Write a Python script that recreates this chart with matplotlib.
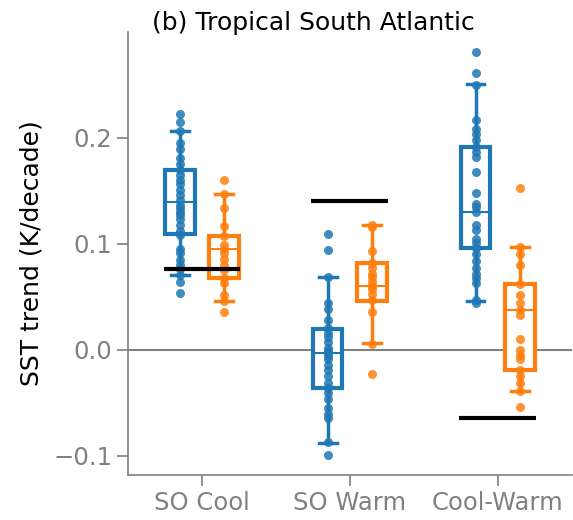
import numpy as np
import matplotlib
matplotlib.use("Agg")
import matplotlib.pyplot as plt

# categories and series
categories = ["SO Cool", "SO Warm", "Cool-Warm"]
blue = "#1f77b4"
orange = "#ff7f0e"

# individual model trends (K/decade)
blue_pts = [
    [0.222, 0.215, 0.206, 0.195, 0.189, 0.181, 0.175, 0.170, 0.165, 0.160,
     0.156, 0.151, 0.146, 0.141, 0.137, 0.134, 0.130, 0.127, 0.123, 0.118,
     0.112, 0.108, 0.095, 0.091, 0.085, 0.080, 0.076, 0.071, 0.064, 0.054],
    [0.109, 0.094, 0.069, 0.044, 0.039, 0.028, 0.021, 0.016, 0.012, 0.007,
     0.002, -0.001, -0.003, -0.006, -0.009, -0.014, -0.019, -0.025, -0.031,
     -0.036, -0.041, -0.046, -0.055, -0.060, -0.064, -0.087, -0.099],
    [0.281, 0.261, 0.250, 0.217, 0.208, 0.204, 0.198, 0.191, 0.187, 0.182,
     0.168, 0.148, 0.138, 0.135, 0.130, 0.118, 0.113, 0.105, 0.101, 0.096,
     0.090, 0.084, 0.077, 0.072, 0.068, 0.063, 0.047, 0.044],
]
orange_pts = [
    [0.160, 0.147, 0.134, 0.117, 0.107, 0.099, 0.095, 0.091, 0.086, 0.080,
     0.075, 0.068, 0.063, 0.052, 0.046, 0.036],
    [0.118, 0.116, 0.093, 0.082, 0.077, 0.072, 0.069, 0.064, 0.060, 0.057,
     0.053, 0.047, 0.036, 0.006, -0.023],
    [0.153, 0.097, 0.090, 0.080, 0.062, 0.052, 0.044, 0.038, 0.033, 0.010,
     0.000, -0.005, -0.009, -0.019, -0.025, -0.031, -0.039, -0.054],
]

# box statistics (whislo, q1, median, q3, whishi)
blue_box = [
    [0.071, 0.109, 0.139, 0.170, 0.206],
    [-0.0875, -0.036, -0.003, 0.0195, 0.069],
    [0.0465, 0.096, 0.130, 0.191, 0.2505],
]
orange_box = [
    [0.046, 0.068, 0.095, 0.107, 0.147],
    [0.0063, 0.0465, 0.060, 0.082, 0.118],
    [-0.039, -0.019, 0.038, 0.062, 0.097],
]

# observed trend per category
obs = [0.076, 0.140, -0.064]

fig = plt.figure(figsize=(5.73, 5.2), dpi=100)
ax = fig.add_axes([0.2234, 0.0865, 0.7743, 0.8525])

x = np.arange(len(categories))
off = 0.15

def stats(rows):
    return [dict(whislo=r[0], q1=r[1], med=r[2], q3=r[3], whishi=r[4], fliers=[])
            for r in rows]

for rows, pts, col, dx in [(blue_box, blue_pts, blue, -off),
                           (orange_box, orange_pts, orange, off)]:
    ax.bxp(stats(rows), positions=x + dx, widths=0.2, capwidths=0.12,
           patch_artist=True, showfliers=False,
           boxprops=dict(facecolor="white", edgecolor=col, linewidth=3),
           medianprops=dict(color=col, linewidth=1.5),
           whiskerprops=dict(color=col, linewidth=2.5),
           capprops=dict(color=col, linewidth=2.5), zorder=2)
    for i, p in enumerate(pts):
        ax.scatter(np.full(len(p), x[i] + dx), p, s=42, color=col,
                   alpha=0.85, linewidths=0, zorder=3)

ax.hlines(obs, x - 0.26, x + 0.26, color="black", linewidth=3, zorder=4)
ax.axhline(0, color="grey", linewidth=1.5, zorder=1)

ax.set_xlim(-0.5, 2.5)
ax.set_ylim(-0.118, 0.300)
ax.set_yticks([-0.1, 0.0, 0.1, 0.2])
ax.set_xticks(x)
ax.set_xticklabels(categories)
ax.set_ylabel("SST trend (K/decade)", fontsize=18, labelpad=7)

for s in ["top", "right"]:
    ax.spines[s].set_visible(False)
for s in ["left", "bottom"]:
    ax.spines[s].set_color("grey")
    ax.spines[s].set_linewidth(1.2)
ax.tick_params(colors="grey", labelsize=17.5, length=8, width=1.2)

fig.text(313 / 573, 1 - 30 / 520, "(b) Tropical South Atlantic",
         ha="center", va="baseline", fontsize=18)

fig.savefig("out.png", dpi=100)
